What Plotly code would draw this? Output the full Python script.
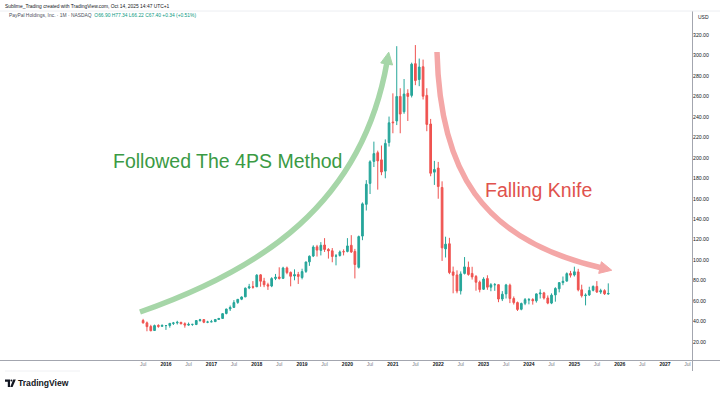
import plotly.graph_objects as go
import pandas as pd

# ---------------- data (PYPL monthly, Jul 2015 - Oct 2025) ----------------
months = pd.date_range("2015-07-01", "2025-10-01", freq="MS")

opens = [
    41.0, 38.7, 35.1, 31.2, 36.2, 35.3,
    36.0, 36.1, 38.2, 38.7, 39.2, 37.9, 36.5, 37.2, 37.1, 41.0, 41.9, 39.4,
    39.7, 39.9, 42.0, 43.0, 47.9, 52.3, 53.8, 58.7, 61.8, 64.1, 72.8, 74.0,
    74.0, 85.6, 79.5, 76.0, 74.7, 82.1, 83.5, 82.2, 92.4, 88.0, 84.5, 86.0,
    83.0, 89.0, 98.3, 104.0, 113.0, 109.5, 114.8, 110.5, 109.1, 103.9, 104.5, 108.3,
    108.5, 114.5, 108.5, 93.0, 123.5, 154.5, 175.0, 196.5, 205.0, 198.0, 187.0, 215.0,
    235.0, 236.0, 260.0, 245.0, 263.0, 261.0, 292.0, 276.5, 289.0, 261.0, 233.0, 186.0,
    190.0, 171.0, 111.0, 116.0, 88.5, 85.5, 70.0, 87.0, 93.0, 87.0, 84.0, 78.5,
    71.5, 82.0, 73.6, 76.0, 76.0, 62.0, 67.0, 75.5, 62.5, 58.5, 52.0, 57.8,
    61.0, 61.5, 60.3, 67.0, 68.0, 63.0, 58.0, 66.0, 72.0, 78.0, 79.5, 87.0,
    85.5, 88.5, 71.0, 65.3, 66.0, 70.5, 74.3, 68.8, 70.2, 66.9,
]
highs = [
    42.6, 40.0, 36.8, 37.0, 37.3, 37.1,
    36.2, 38.4, 39.6, 40.7, 39.7, 39.2, 39.0, 37.6, 41.1, 42.6, 42.0, 40.7,
    41.6, 42.3, 43.5, 48.2, 52.5, 55.6, 60.9, 62.0, 64.5, 73.2, 76.8, 79.5,
    86.3, 86.3, 82.7, 77.9, 83.3, 86.5, 93.0, 93.5, 93.7, 88.9, 91.0, 88.5,
    91.6, 98.5, 104.6, 114.5, 114.9, 117.6, 121.5, 111.7, 111.8, 106.0, 109.4, 110.5,
    121.5, 124.4, 111.0, 124.0, 156.4, 178.2, 197.6, 215.8, 207.0, 212.0, 218.0, 240.3,
    263.0, 309.1, 268.0, 277.0, 267.0, 293.0, 310.2, 297.0, 296.0, 268.0, 238.0, 197.0,
    196.0, 177.0, 122.9, 121.8, 93.7, 90.0, 89.0, 103.0, 98.6, 93.5, 85.5, 80.0,
    83.3, 85.2, 77.5, 77.6, 76.5, 69.7, 76.8, 77.0, 64.5, 59.5, 58.5, 63.0,
    63.0, 62.8, 67.5, 71.5, 69.0, 65.5, 67.5, 73.5, 78.5, 84.0, 88.0, 89.5,
    93.6, 91.5, 76.0, 67.5, 74.0, 75.3, 79.5, 72.0, 71.5, 77.3,
]
lows = [
    38.0, 30.5, 30.5, 30.8, 33.9, 34.8,
    31.8, 34.0, 36.6, 37.1, 37.3, 34.0, 35.8, 35.8, 36.5, 39.8, 38.4, 38.4,
    39.4, 39.5, 41.8, 42.6, 47.0, 50.3, 53.7, 57.3, 60.9, 63.8, 71.6, 72.1,
    73.6, 74.0, 73.6, 70.9, 73.6, 80.5, 81.0, 81.5, 86.2, 74.4, 80.3, 76.7,
    81.2, 87.5, 94.4, 103.0, 103.5, 104.6, 108.0, 101.5, 97.9, 94.9, 103.5, 104.6,
    107.6, 107.0, 82.1, 91.8, 119.5, 148.5, 164.6, 191.0, 168.9, 183.0, 180.0, 211.0,
    224.0, 232.0, 224.0, 243.0, 236.0, 259.0, 271.0, 270.0, 257.0, 226.0, 182.0, 173.5,
    160.0, 99.2, 102.6, 86.3, 67.6, 67.6, 66.4, 86.0, 84.8, 81.0, 70.1, 68.5,
    70.8, 71.0, 69.6, 70.0, 58.9, 60.0, 62.5, 58.0, 56.6, 50.3, 51.0, 56.0,
    56.8, 56.5, 58.5, 62.5, 61.5, 56.9, 57.0, 59.4, 68.5, 75.5, 79.0, 83.0,
    84.0, 69.5, 63.5, 55.8, 65.0, 69.5, 68.0, 67.0, 66.0, 66.2,
]
closes = [
    38.7, 35.0, 31.0, 36.0, 35.3, 36.2,
    36.1, 38.2, 38.6, 39.2, 37.8, 36.5, 37.2, 37.2, 41.0, 41.7, 39.3, 39.5,
    39.8, 42.0, 43.0, 47.7, 52.2, 53.7, 58.5, 61.7, 64.0, 72.6, 73.9, 73.6,
    85.3, 79.4, 75.9, 74.6, 82.0, 83.3, 82.1, 92.3, 87.8, 84.2, 85.8, 84.1,
    88.8, 98.2, 103.8, 112.8, 109.8, 114.5, 110.4, 109.1, 103.6, 104.1, 108.0, 108.2,
    113.9, 108.0, 95.7, 123.0, 155.0, 174.2, 196.1, 204.1, 197.0, 186.1, 214.1, 234.2,
    234.3, 259.9, 242.8, 262.3, 260.0, 291.5, 275.5, 288.7, 260.2, 232.6, 184.9, 188.6,
    171.9, 112.0, 115.6, 87.9, 85.2, 69.8, 86.5, 93.4, 86.0, 83.6, 78.4, 71.2,
    81.5, 73.6, 75.9, 76.0, 62.0, 66.7, 75.8, 62.5, 58.5, 51.8, 57.6, 61.4,
    61.4, 60.3, 67.0, 67.9, 63.0, 58.0, 65.8, 72.3, 78.0, 79.3, 86.8, 85.3,
    88.6, 71.0, 65.3, 65.8, 70.3, 74.3, 68.8, 70.2, 67.1, 67.4,
]

price_ticks = list(range(20, 321, 20))
tick_years = list(range(2016, 2028))

header_1 = "Sublime_Trading created with TradingView.com, Oct 14, 2025 14:47 UTC+1"
header_2 = "PayPal Holdings, Inc. · 1M · NASDAQ"
header_ohlc = "O66.90 H77.34 L66.22 C67.40 +0.34 (+0.51%)"
label_up = "Followed The 4PS Method"
label_down = "Falling Knife"

# ---------------- layout geometry ----------------
W, H = 720, 395
ML, MR, MT, MB = 0, 28, 12, 35
PW, PH = W - ML - MR, H - MT - MB

def px(x):
    return (x - ML) / PW

def py(y):
    return (H - MB - y) / PH

UP, DOWN = "#26a69a", "#ef5350"

fig = go.Figure()
fig.add_trace(go.Candlestick(
    x=months, open=opens, high=highs, low=lows, close=closes,
    increasing=dict(line=dict(color=UP, width=1), fillcolor=UP),
    decreasing=dict(line=dict(color=DOWN, width=1), fillcolor=DOWN),
    whiskerwidth=0, showlegend=False, hoverinfo="skip",
))

# x tick labels
tickvals, ticktext = [], []
tickvals.append(pd.Timestamp("2015-07-01"))
ticktext.append("<span style='color:#787b86'>Jul</span>")
for yr in tick_years:
    tickvals.append(pd.Timestamp(f"{yr}-01-01"))
    ticktext.append(f"<b>{yr}</b>")
    tickvals.append(pd.Timestamp(f"{yr}-07-01"))
    ticktext.append("<span style='color:#787b86'>Jul</span>")

fig.update_layout(
    width=W, height=H,
    margin=dict(l=ML, r=MR, t=MT, b=MB),
    paper_bgcolor="white", plot_bgcolor="white",
    font=dict(family="Liberation Sans, Arial, sans-serif", color="#131722"),
    showlegend=False,
    xaxis=dict(
        type="date", range=["2012-05-05", "2027-08-06"],
        rangeslider=dict(visible=False),
        showgrid=False, zeroline=False, showline=False,
        tickvals=tickvals, ticktext=ticktext,
        tickfont=dict(size=5, color="#131722"), ticks="", ticklen=0,
    ),
    yaxis=dict(
        side="right", range=[2.4, 342.5],
        showgrid=False, zeroline=False, showline=False,
        tickvals=price_ticks, ticktext=[f"{v:.2f}" for v in price_ticks],
        tickfont=dict(size=5.2, color="#131722"), ticks="",
    ),
)

shapes = []
# axes borders
shapes.append(dict(type="line", xref="paper", yref="paper",
                   x0=px(0), x1=px(W), y0=py(360.5), y1=py(360.5),
                   line=dict(color="#a3a6af", width=1)))
shapes.append(dict(type="line", xref="paper", yref="paper",
                   x0=px(692.5), x1=px(692.5), y0=py(11), y1=py(371),
                   line=dict(color="#a3a6af", width=1)))
shapes.append(dict(type="line", xref="paper", yref="paper",
                   x0=px(0), x1=px(W), y0=py(11), y1=py(11),
                   line=dict(color="#eceef2", width=1)))
shapes.append(dict(type="line", xref="paper", yref="paper",
                   x0=px(5), x1=px(80), y0=py(371), y1=py(371),
                   line=dict(color="#f0f1f4", width=1)))


def bezier_arrow(p0, p1, p2, p3, color, width, head_len, head_w):
    path = "M{},{} C{},{} {},{} {},{}".format(
        px(p0[0]), py(p0[1]), px(p1[0]), py(p1[1]),
        px(p2[0]), py(p2[1]), px(p3[0]), py(p3[1]))
    out = [dict(type="path", xref="paper", yref="paper", path=path,
                line=dict(color=color, width=width))]
    dx, dy = p3[0] - p2[0], p3[1] - p2[1]
    n = (dx * dx + dy * dy) ** 0.5
    ux, uy = dx / n, dy / n
    nx, ny = -uy, ux
    bx, by = p3[0] - ux * 2, p3[1] - uy * 2
    tip = (p3[0] + ux * head_len, p3[1] + uy * head_len)
    a = (bx + nx * head_w, by + ny * head_w)
    b = (bx - nx * head_w, by - ny * head_w)
    head = "M{},{} L{},{} L{},{} Z".format(
        px(tip[0]), py(tip[1]), px(a[0]), py(a[1]), px(b[0]), py(b[1]))
    out.append(dict(type="path", xref="paper", yref="paper", path=head,
                    fillcolor=color, line=dict(color=color, width=1)))
    return out

shapes += bezier_arrow((140, 312), (260, 270), (362, 205), (387, 62),
                       "#a6d6a8", 5.5, 10, 6)
shapes += bezier_arrow((437, 52), (440, 170), (480, 240), (602, 268),
                       "#f4a7a7", 5.5, 10, 6)

# TradingView logo mark
shapes.append(dict(type="path", xref="paper", yref="paper",
                   path="M{},{} L{},{} L{},{} L{},{} L{},{} L{},{} Z".format(
                       px(5), py(379.5), px(10), py(379.5), px(10), py(387),
                       px(7.8), py(387), px(7.8), py(381.8), px(5), py(381.8)),
                   fillcolor="#131722", line=dict(width=0)))
shapes.append(dict(type="circle", xref="paper", yref="paper",
                   x0=px(10.4), x1=px(12.4), y0=py(379.5), y1=py(381.5),
                   fillcolor="#131722", line=dict(width=0)))
shapes.append(dict(type="path", xref="paper", yref="paper",
                   path="M{},{} L{},{} L{},{} L{},{} Z".format(
                       px(13.2), py(379.5), px(15.8), py(379.5),
                       px(12.6), py(387), px(10.2), py(387)),
                   fillcolor="#131722", line=dict(width=0)))

fig.update_layout(shapes=shapes)

ann = []
ann.append(dict(xref="paper", yref="paper", x=px(3), y=py(6), xanchor="left",
                yanchor="middle", showarrow=False, text=header_1,
                font=dict(size=4.9, color="#131722")))
ann.append(dict(xref="paper", yref="paper", x=px(7), y=py(16), xanchor="left",
                yanchor="middle", showarrow=False,
                text=header_2 + "  <span style='color:#089981'>" + header_ohlc + "</span>",
                font=dict(size=4.9, color="#4a4e5a")))
ann.append(dict(xref="paper", yref="paper", x=px(696), y=py(17), xanchor="left",
                yanchor="middle", showarrow=False, text="USD",
                font=dict(size=5, color="#131722")))
ann.append(dict(xref="paper", yref="paper", x=px(227), y=py(161), xanchor="center",
                yanchor="middle", showarrow=False, text=label_up,
                font=dict(size=19.5, color="#3a9a44")))
ann.append(dict(xref="paper", yref="paper", x=px(538), y=py(190), xanchor="center",
                yanchor="middle", showarrow=False, text=label_down,
                font=dict(size=19.5, color="#e0524d")))
ann.append(dict(xref="paper", yref="paper", x=px(15.5), y=py(383), xanchor="left",
                yanchor="middle", showarrow=False, text="<b>TradingView</b>",
                font=dict(size=8.6, color="#131722")))
fig.update_layout(annotations=ann)

fig.write_html("out.html", config={"displayModeBar": False},
               post_script="document.body.style.margin='0';")
